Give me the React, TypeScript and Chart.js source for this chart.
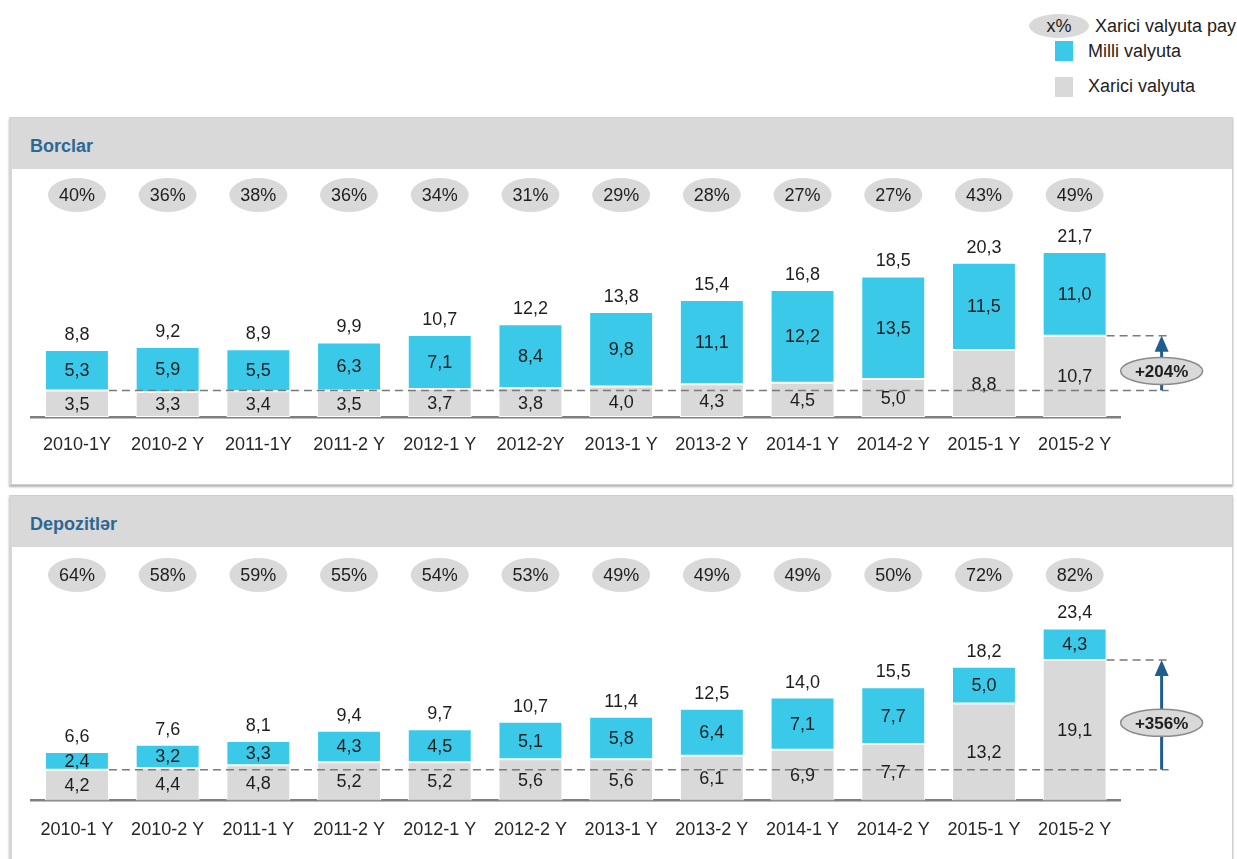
import React, { useEffect, useRef } from "react";
import { Chart, registerables } from "chart.js";

Chart.register(...registerables);

// ---------- DATA ----------
const loanCategories = ["2010-1Y", "2010-2 Y", "2011-1Y", "2011-2 Y", "2012-1 Y", "2012-2Y", "2013-1 Y", "2013-2 Y", "2014-1 Y", "2014-2 Y", "2015-1 Y", "2015-2 Y"];
const loanForeign = [3.5, 3.3, 3.4, 3.5, 3.7, 3.8, 4.0, 4.3, 4.5, 5.0, 8.8, 10.7];
const loanNational = [5.3, 5.9, 5.5, 6.3, 7.1, 8.4, 9.8, 11.1, 12.2, 13.5, 11.5, 11.0];
const loanTotals = [8.8, 9.2, 8.9, 9.9, 10.7, 12.2, 13.8, 15.4, 16.8, 18.5, 20.3, 21.7];
const loanForeignShare = [40, 36, 38, 36, 34, 31, 29, 28, 27, 27, 43, 49];
const loanGrowth = "+204%";

const depCategories = ["2010-1 Y", "2010-2 Y", "2011-1 Y", "2011-2 Y", "2012-1 Y", "2012-2 Y", "2013-1 Y", "2013-2 Y", "2014-1 Y", "2014-2 Y", "2015-1 Y", "2015-2 Y"];
const depForeign = [4.2, 4.4, 4.8, 5.2, 5.2, 5.6, 5.6, 6.1, 6.9, 7.7, 13.2, 19.1];
const depNational = [2.4, 3.2, 3.3, 4.3, 4.5, 5.1, 5.8, 6.4, 7.1, 7.7, 5.0, 4.3];
const depTotals = [6.6, 7.6, 8.1, 9.4, 9.7, 10.7, 11.4, 12.5, 14.0, 15.5, 18.2, 23.4];
const depForeignShare = [64, 58, 59, 55, 54, 53, 49, 49, 49, 50, 72, 82];
const depGrowth = "+356%";

const legendShareLabel = "Xarici valyuta pay";
const legendNational = "Milli valyuta";
const legendForeign = "Xarici valyuta";
const loanTitle = "Borclar";
const depTitle = "Depozitlər";

// ---------- STYLE ----------
const FONT = '"Liberation Sans", Arial, Helvetica, sans-serif';
const CYAN = "#3BC9E9";
const GRAY = "#D9D9D9";
const ARROW = "#215D8C";
const TEXT = "#1E1E1E";
const TITLE = "#2B6894";

const fmt = (v: number) => v.toFixed(1).replace(".", ",");

type PanelCfg = {
  categories: string[];
  foreign: number[];
  national: number[];
  totals: number[];
  shares: number[];
  growth: string;
  height: number;
  baseline: number;
  pxPerUnit: number;
  badgeY: number;
  tickPad: number;
};

function makePlugin(cfg: PanelCfg) {
  return {
    id: "panelAnnotations",
    afterDatasetsDraw(chart: any) {
      const ctx: CanvasRenderingContext2D = chart.ctx;
      const y = chart.scales.y;
      const metaF = chart.getDatasetMeta(0);
      const metaN = chart.getDatasetMeta(1);
      const n = metaF.data.length;
      ctx.save();

      // dashed reference lines
      const bar0: any = metaF.data[0];
      const lastBar: any = metaF.data[n - 1];
      const yLow = y.getPixelForValue(cfg.foreign[0]);
      const yHigh = y.getPixelForValue(cfg.foreign[n - 1]);
      const lastRight = lastBar.x + lastBar.width / 2;
      const arrowX = lastRight + 55;
      ctx.setLineDash([8, 5]);
      ctx.strokeStyle = "#7a7a7a";
      ctx.lineWidth = 1.5;
      ctx.beginPath();
      ctx.moveTo(bar0.x + bar0.width / 2, yLow);
      ctx.lineTo(arrowX + 7, yLow);
      ctx.moveTo(lastRight, yHigh);
      ctx.lineTo(arrowX + 7, yHigh);
      ctx.stroke();
      ctx.setLineDash([]);

      // arrow
      ctx.strokeStyle = ARROW;
      ctx.lineWidth = 3;
      ctx.beginPath();
      ctx.moveTo(arrowX, yLow);
      ctx.lineTo(arrowX, yHigh + 12);
      ctx.stroke();
      ctx.fillStyle = ARROW;
      ctx.beginPath();
      ctx.moveTo(arrowX, yHigh);
      ctx.lineTo(arrowX - 7, yHigh + 16);
      ctx.lineTo(arrowX + 7, yHigh + 16);
      ctx.closePath();
      ctx.fill();

      // growth ellipse
      const ey = (yLow + yHigh) / 2 + 8;
      ctx.beginPath();
      ctx.ellipse(arrowX, ey, 41, 13.5, 0, 0, Math.PI * 2);
      ctx.fillStyle = GRAY;
      ctx.fill();
      ctx.strokeStyle = "#8a8a8a";
      ctx.lineWidth = 1.5;
      ctx.stroke();
      ctx.fillStyle = TEXT;
      ctx.font = `bold 17px ${FONT}`;
      ctx.textAlign = "center";
      ctx.textBaseline = "middle";
      ctx.fillText(cfg.growth, arrowX, ey + 1);

      // share badges
      ctx.font = `18px ${FONT}`;
      for (let i = 0; i < n; i++) {
        const el: any = metaF.data[i];
        ctx.beginPath();
        ctx.ellipse(el.x, cfg.badgeY, 29, 17, 0, 0, Math.PI * 2);
        ctx.fillStyle = GRAY;
        ctx.fill();
        ctx.fillStyle = TEXT;
        ctx.fillText(`${cfg.shares[i]}%`, el.x, cfg.badgeY + 1);
      }

      // value labels
      for (let i = 0; i < n; i++) {
        const f: any = metaF.data[i];
        const m: any = metaN.data[i];
        ctx.fillStyle = TEXT;
        ctx.fillText(fmt(cfg.foreign[i]), f.x, (f.y + f.base) / 2 + 1);
        ctx.fillText(fmt(cfg.national[i]), m.x, (m.y + m.base) / 2 + 1);
        ctx.fillText(fmt(cfg.totals[i]), m.x, m.y - 15);
      }
      ctx.restore();
    },
  };
}

function buildChart(canvas: HTMLCanvasElement, cfg: PanelCfg) {
  return new Chart(canvas, {
    type: "bar",
    data: {
      labels: cfg.categories,
      datasets: [
        {
          label: legendForeign,
          data: cfg.foreign,
          backgroundColor: GRAY,
          borderColor: "#ffffff",
          borderWidth: 1,
          borderSkipped: false,
          categoryPercentage: 1,
          barPercentage: 0.705,
        },
        {
          label: legendNational,
          data: cfg.national,
          backgroundColor: CYAN,
          borderColor: "#ffffff",
          borderWidth: 1,
          borderSkipped: false,
          categoryPercentage: 1,
          barPercentage: 0.705,
        },
      ],
    },
    options: {
      responsive: false,
      animation: false,
      layout: { padding: { left: 31.6, right: 117, top: 10, bottom: 0 } },
      plugins: { legend: { display: false }, tooltip: { enabled: false } },
      scales: {
        x: {
          stacked: true,
          grid: { display: false, drawTicks: false },
          border: { display: true, color: "#7f7f7f", width: 2.5 },
          ticks: {
            font: { family: FONT, size: 18 },
            color: "#262626",
            padding: cfg.tickPad,
            autoSkip: false,
            maxRotation: 0,
          },
          afterFit: (s: any) => {
            s.height = cfg.height - cfg.baseline;
          },
        },
        y: {
          stacked: true,
          display: false,
          min: 0,
          max: (cfg.baseline - 10) / cfg.pxPerUnit,
        },
      },
    },
    plugins: [makePlugin(cfg)],
  } as any);
}

const loanCfg: PanelCfg = {
  categories: loanCategories,
  foreign: loanForeign,
  national: loanNational,
  totals: loanTotals,
  shares: loanForeignShare,
  growth: loanGrowth,
  height: 314,
  baseline: 247,
  pxPerUnit: 7.6,
  badgeY: 25,
  tickPad: 17,
};

const depCfg: PanelCfg = {
  categories: depCategories,
  foreign: depForeign,
  national: depNational,
  totals: depTotals,
  shares: depForeignShare,
  growth: depGrowth,
  height: 313,
  baseline: 254.5,
  pxPerUnit: 7.35,
  badgeY: 29,
  tickPad: 19,
};

const panelStyle = (top: number, height: number): React.CSSProperties => ({
  position: "absolute",
  left: 9,
  top,
  width: 1224,
  height,
  border: "1px solid #cfcfcf",
  borderLeft: "3px solid #d6d6d6",
  boxShadow: "0 2px 2px rgba(0,0,0,0.3)",
  background: "#ffffff",
  boxSizing: "border-box",
});

const headerStyle: React.CSSProperties = {
  height: 51,
  background: GRAY,
  display: "flex",
  alignItems: "center",
  paddingLeft: 18,
  paddingTop: 6,
  boxSizing: "border-box",
  fontWeight: "bold",
  fontSize: 18,
  color: TITLE,
};

export default function App() {
  const ref1 = useRef<HTMLCanvasElement>(null);
  const ref2 = useRef<HTMLCanvasElement>(null);

  useEffect(() => {
    const c1 = buildChart(ref1.current!, loanCfg);
    const c2 = buildChart(ref2.current!, depCfg);
    return () => {
      c1.destroy();
      c2.destroy();
    };
  }, []);

  return (
    <div
      style={{
        position: "fixed",
        left: 0,
        top: 0,
        width: 1237,
        height: 859,
        background: "#ffffff",
        overflow: "hidden",
        fontFamily: FONT,
        color: TEXT,
      }}
    >
      {/* legend */}
      <div
        style={{
          position: "absolute",
          left: 1029,
          top: 14,
          width: 60,
          height: 24,
          borderRadius: "50%",
          background: GRAY,
          fontSize: 18,
          display: "flex",
          alignItems: "center",
          justifyContent: "center",
        }}
      >
        x%
      </div>
      <div style={{ position: "absolute", left: 1095, top: 16, fontSize: 18, whiteSpace: "nowrap", lineHeight: "21px" }}>
        {legendShareLabel}
      </div>
      <div style={{ position: "absolute", left: 1055, top: 41, width: 18, height: 20, background: CYAN }} />
      <div style={{ position: "absolute", left: 1088, top: 41, fontSize: 18, whiteSpace: "nowrap", lineHeight: "21px" }}>
        {legendNational}
      </div>
      <div style={{ position: "absolute", left: 1055, top: 77, width: 18, height: 20, background: GRAY }} />
      <div style={{ position: "absolute", left: 1088, top: 76, fontSize: 18, whiteSpace: "nowrap", lineHeight: "21px" }}>
        {legendForeign}
      </div>

      {/* panel 1 */}
      <div style={panelStyle(117, 368)}>
        <div style={headerStyle}>{loanTitle}</div>
      </div>
      {/* panel 2 */}
      <div style={panelStyle(495, 380)}>
        <div style={headerStyle}>{depTitle}</div>
      </div>

      <canvas ref={ref1} width={1237} height={314} style={{ position: "absolute", left: 0, top: 170 }} />
      <canvas ref={ref2} width={1237} height={313} style={{ position: "absolute", left: 0, top: 546 }} />
    </div>
  );
}
